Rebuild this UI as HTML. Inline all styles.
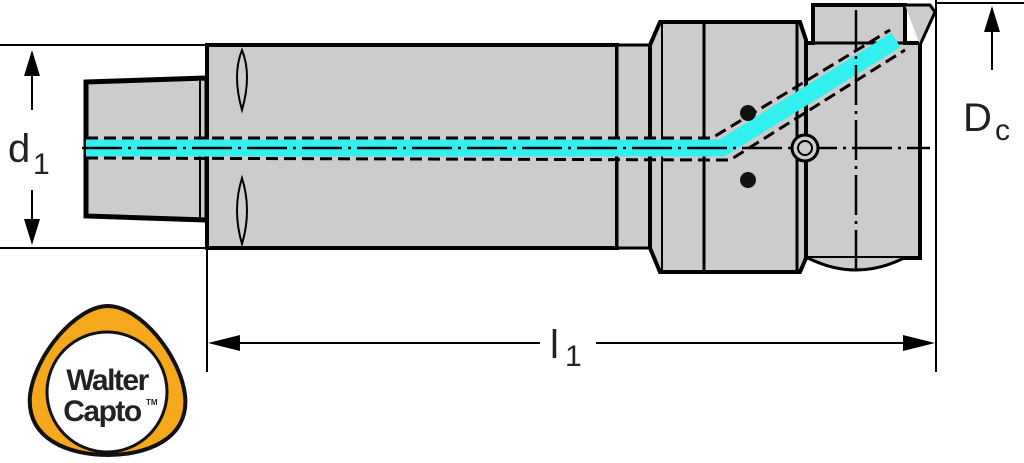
<!DOCTYPE html>
<html><head><style>html,body{margin:0;padding:0;background:#fff;width:1024px;height:463px;overflow:hidden}</style></head>
<body>
<svg width="1024" height="463" viewBox="0 0 1024 463" xmlns="http://www.w3.org/2000/svg" font-family="Liberation Sans, DejaVu Sans, sans-serif">
<g stroke="#000" fill="#ccc">
 <path d="M86 82 L207 78 L207 220 L86 216 Z" stroke-width="5"/>
 <line x1="200" y1="80" x2="200" y2="218" stroke-width="2"/>
 <rect x="207" y="45" width="410" height="203" stroke-width="4"/>
 <rect x="617" y="45" width="33" height="203" stroke-width="3"/>
 <path d="M650 45 L660 22 L800 22 L806 40 L806 258 L800 272 L660 272 L650 248 Z" stroke-width="4"/>
 <line x1="662" y1="24" x2="662" y2="270" stroke-width="2"/>
 <line x1="704" y1="24" x2="704" y2="270" stroke-width="3"/>
 <line x1="797" y1="24" x2="797" y2="270" stroke-width="3"/>
 <path d="M813 5 L905 5 L905 43 L920 43 L920 258 L806 258 L806 43 L813 43 Z" stroke-width="4"/>
 <path d="M813 43 L920 43" stroke-width="3"/>
 <path d="M808 258 Q856 282 904 258" stroke-width="3"/>
 <path d="M905 5 L930 5 L935 12 L920 45" stroke-width="3" fill="#ccc"/>
 <path d="M242 50 Q232 75 242 110 Q252 75 242 50 Z" stroke-width="2" fill="#ccc"/>
 <path d="M242 178 Q232 210 242 244 Q252 210 242 178 Z" stroke-width="2" fill="#ccc"/>
</g>
<path d="M86 148 L722 148 L896 40" stroke="#33f0f0" stroke-width="17" fill="none" stroke-linejoin="round"/>
<g stroke="#000" stroke-width="3" fill="none" stroke-dasharray="12 6">
 <path d="M86 138 L712 138 L890 30"/>
 <path d="M86 158 L730 160 L905 50"/>
</g>
<g stroke="#000" stroke-width="2.5" fill="none" stroke-dasharray="40 6 3 6">
 <path d="M82 148 L930 148"/>
 <path d="M856 10 L856 275"/>
</g>
<circle cx="805" cy="148" r="13" fill="#ccc" stroke="#000" stroke-width="3"/>
<circle cx="805" cy="148" r="7" fill="none" stroke="#000" stroke-width="2"/>
<circle cx="748" cy="113" r="8" fill="#111"/>
<circle cx="748" cy="180" r="8" fill="#111"/>
<g stroke="#000" stroke-width="2" fill="none">
 <line x1="0" y1="45" x2="207" y2="45"/>
 <line x1="0" y1="248" x2="207" y2="248"/>
 <line x1="32" y1="60" x2="32" y2="110"/>
 <line x1="32" y1="190" x2="32" y2="235"/>
 <line x1="207" y1="250" x2="207" y2="372"/>
 <line x1="936" y1="0" x2="936" y2="372"/>
 <line x1="936" y1="3" x2="1024" y2="3"/>
 <line x1="992" y1="20" x2="992" y2="70"/>
 <line x1="220" y1="343" x2="540" y2="343"/>
 <line x1="596" y1="343" x2="925" y2="343"/>
</g>
<g fill="#000">
 <path d="M32 50 L24 76 L40 76 Z"/>
 <path d="M32 245 L24 219 L40 219 Z"/>
 <path d="M992 6 L984 32 L1000 32 Z"/>
 <path d="M208 343 L240 335 L240 351 Z"/>
 <path d="M935 343 L903 335 L903 351 Z"/>
</g>
<text x="8" y="162" font-size="40" fill="#222">d</text><text x="33" y="174" font-size="30" fill="#222">1</text>
<text x="963" y="131" font-size="40" fill="#222">D</text><text x="995" y="140" font-size="30" fill="#222">c</text>
<text x="550" y="358" font-size="40" fill="#222">l</text><text x="565" y="366" font-size="30" fill="#222">1</text>
<path d="M108 306 C140 306 180 355 185 395 C190 440 145 455 108 455 C70 455 26 440 30 395 C35 355 76 306 108 306 Z" fill="#f5a81c" stroke="#111" stroke-width="4"/>
<circle cx="107" cy="392" r="60" fill="#fff" stroke="#111" stroke-width="3"/>
<text x="107" y="390" font-size="30" font-weight="bold" text-anchor="middle" fill="#222" letter-spacing="-1.5">Walter</text>
<text x="102" y="421" font-size="30" font-weight="bold" text-anchor="middle" fill="#222" letter-spacing="-1.5">Capto</text>
<text x="146" y="405" font-size="8" font-weight="bold" fill="#222">TM</text>
</svg>
</body></html>
